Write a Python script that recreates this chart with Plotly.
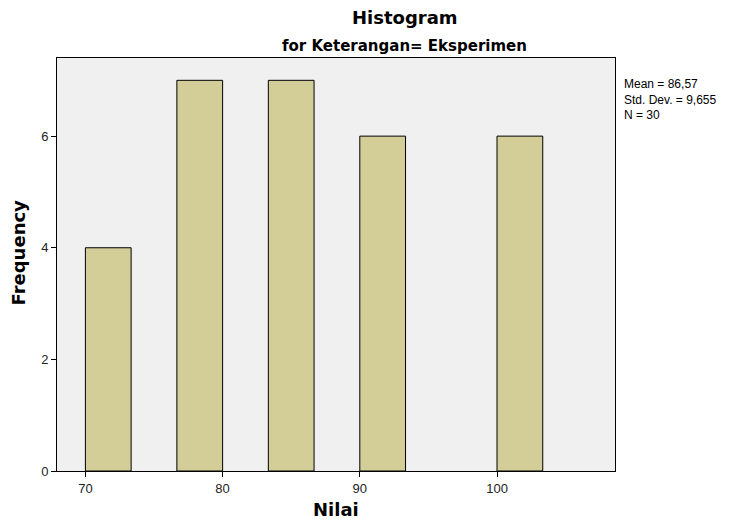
import plotly.graph_objects as go

# Data
bin_left = [70.0, 76.667, 83.333, 90.0, 100.0]
counts = [4, 7, 7, 6, 6]
bin_width = 10 / 3
x_ticks = [70, 80, 90, 100]
y_ticks = [0, 2, 4, 6]
stats_lines = ["Mean = 86,57", "Std. Dev. = 9,655", "N = 30"]

centers = [b + bin_width / 2 for b in bin_left]

font = "Liberation Sans, Arial, sans-serif"
title_font = "DejaVu Sans, Liberation Sans, sans-serif"

fig = go.Figure()
fig.add_trace(go.Bar(
    x=centers, y=counts, width=[bin_width] * len(counts),
    marker=dict(color="#d3ce98", line=dict(color="black", width=1)),
    showlegend=False, hoverinfo="skip",
))

axis_common = dict(ticks="outside", ticklen=5, tickcolor="black", showgrid=False,
                   zeroline=False, showline=True, linecolor="black", linewidth=1,
                   mirror=True, tickfont=dict(size=13, color="#222", family=font))

fig.update_layout(
    width=728, height=514,
    margin=dict(l=49, r=121, t=50, b=51),
    paper_bgcolor="white", plot_bgcolor="#f0f0f0",
    font=dict(family=font, size=13, color="#222"),
    xaxis=dict(range=[67.93, 108.6], tickvals=x_ticks, **axis_common),
    yaxis=dict(range=[0, 7.4], tickvals=y_ticks, **axis_common),
)

fig.add_annotation(text="<b>Histogram</b>", xref="paper", yref="paper", x=0.5, y=1,
                   xanchor="center", yanchor="middle", xshift=69, yshift=41, showarrow=False,
                   font=dict(size=18, color="black", family=title_font))
fig.add_annotation(text="<b>for Keterangan= Eksperimen</b>", xref="paper", yref="paper", x=0.5, y=1,
                   xanchor="center", yanchor="middle", xshift=68, yshift=12, showarrow=False,
                   font=dict(size=15, color="black", family=title_font))
fig.add_annotation(text="<b>Nilai</b>", xref="paper", yref="paper", x=0.5, y=0,
                   xanchor="center", yanchor="middle", yshift=-38, showarrow=False,
                   font=dict(size=18, color="black", family=title_font))
fig.add_annotation(text="<b>Frequency</b>", xref="paper", yref="paper", x=0, y=0.5,
                   xanchor="center", yanchor="middle", xshift=-39, yshift=12, textangle=-90,
                   showarrow=False, font=dict(size=18, color="black", family=title_font))
fig.add_annotation(text="<br>".join(stats_lines), xref="paper", yref="paper", x=1, y=1,
                   xanchor="left", yanchor="middle", xshift=7, yshift=-41.5,
                   showarrow=False, align="left",
                   font=dict(size=12, color="black", family=font))

fig.write_html("out.html")
